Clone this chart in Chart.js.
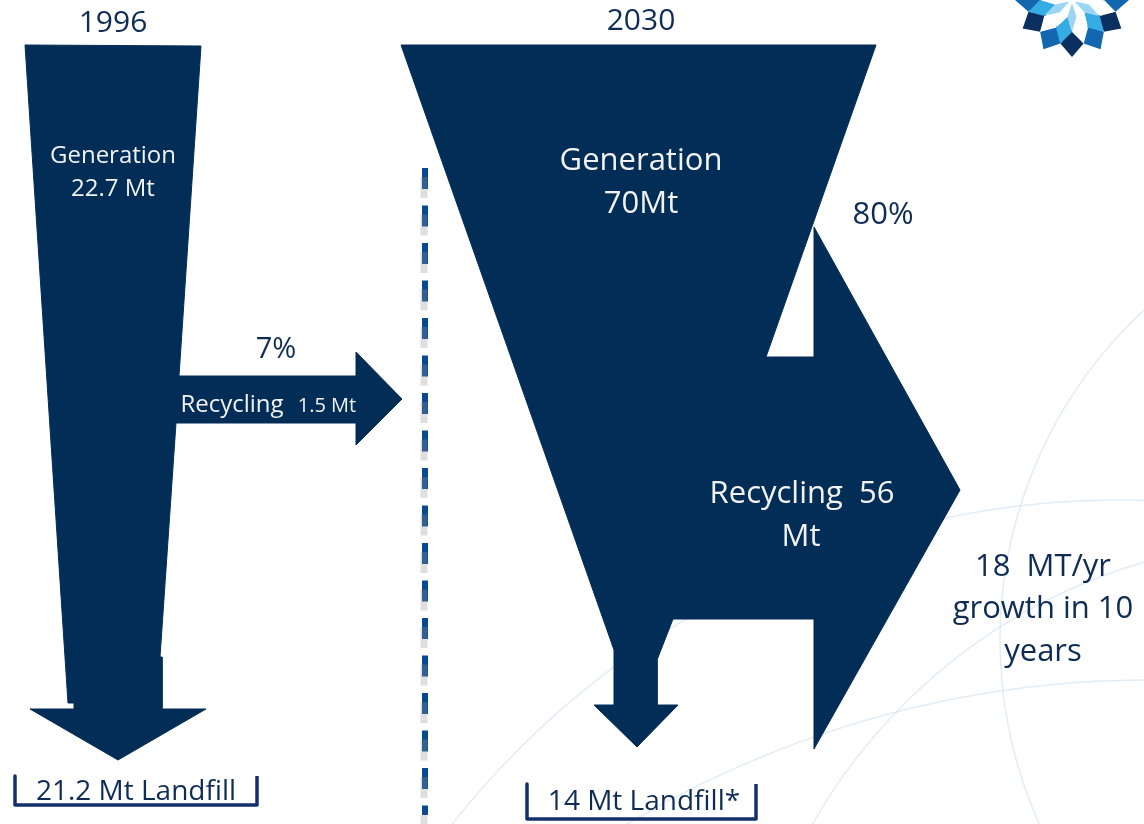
<!DOCTYPE html>
<html>
<head>
<meta charset="utf-8">
<script src="https://cdn.jsdelivr.net/npm/chart.js@4.4.1/dist/chart.umd.min.js"></script>
<style>
  html, body { margin: 0; padding: 0; background: #fff; }
  #wrap { width: 1144px; height: 824px; position: relative; }
</style>
</head>
<body>
<div id="wrap"><canvas id="flowChart"></canvas></div>
<script>
// Waste flows (Mt)
const years = ["1996", "2030"];
const generationMt = [22.7, 70];
const recyclingMt = [1.5, 56];
const landfillMt = [21.2, 14];
const recyclingRate = [7, 80];
const growthNote = ["18  MT/yr", "growth in 10", "years"];

// Layout of the flow arrows, in slide units (x right, y down)
const flow1996Outline = [
  [25, 45], [201, 46], [179, 376], [356, 376], [356, 352], [402, 399],
  [356, 445], [356, 423], [176, 423], [160, 657], [162, 657], [162, 709],
  [206, 709], [118, 760], [30, 709], [74, 709], [74, 703], [68, 703], [25, 45],
];
const flow2030Outline = [
  [401, 45], [876, 45], [766, 357], [814, 357], [814, 227], [960, 490],
  [814, 749], [814, 619], [673, 619], [657, 660], [657, 705], [678, 705],
  [637, 747], [594, 705], [614, 705], [614, 650], [401, 45],
];
const dividerLine = [[425, 168], [425, 815]];
const bracket1996 = [[15, 776], [15, 805], [257, 805], [257, 776]];
const bracket2030 = [[527, 784], [527, 819], [756, 819], [756, 784]];

const NAVY = "#022d56";
const TEXT = "#0e2c55";
const pts = (arr, dx = 0, dy = 0) => arr.map(([x, y]) => ({ x: x + dx, y: y + dy }));

// text labels: [text, x, baseline y, size, color]
const labels = [
  [years[0], 113, 32, 30, TEXT],
  [years[1], 641, 30, 30, TEXT],
  ["Generation", 113, 163, 24, "#f2f2f2"],
  [`${generationMt[0]} Mt`, 113, 196, 24, "#f2f2f2"],
  [`${recyclingRate[0]}%`, 276, 358, 29, TEXT],
  ["Generation", 641, 170, 31, "#f2f2f2"],
  [`${generationMt[1]}Mt`, 641, 213, 31, "#f2f2f2"],
  [`${recyclingRate[1]}%`, 883, 224, 31, TEXT],
  [`Recycling  ${recyclingMt[1]}`, 802, 503, 31, "#f2f2f2"],
  ["Mt", 801, 546, 31, "#f2f2f2"],
  [growthNote[0], 1043, 576, 31, TEXT],
  [growthNote[1], 1043, 618, 31, TEXT],
  [growthNote[2], 1043, 661, 31, TEXT],
  [`${landfillMt[0]} Mt Landfill`, 136, 800, 28, TEXT],
  [`${landfillMt[1]} Mt Landfill*`, 644, 810, 28, TEXT],
];

// faint background arcs, logo, and the text
const decor = {
  id: "decor",
  beforeDatasetsDraw(chart) {
    const { ctx, scales: { x, y } } = chart;
    ctx.save();
    ctx.strokeStyle = "rgba(190,215,235,0.45)";
    ctx.lineWidth = 1.5;
    const arcs = [[1450, 640, 450], [1120, 1350, 850], [1150, 1700, 1020], [1300, 1100, 560]];
    arcs.forEach(([cx, cy, r]) => {
      ctx.beginPath();
      ctx.arc(x.getPixelForValue(cx), y.getPixelForValue(cy), r, 0, Math.PI * 2);
      ctx.stroke();
    });
    // logo rosette, cut by the top edge
    const lx = x.getPixelForValue(1072), ly = y.getPixelForValue(0);
    const rings = [
      // inner radius, outer radius, colours, angle offset
      [30, 57, ["#0b2f5f", "#1366b0"], 0],
      [17, 45, ["#36ace4", "#ffffff"], Math.PI / 12],
      [3, 31, ["#9ad6f3", "#ffffff"], 0],
    ];
    rings.forEach(([r0, r1, cols, off]) => {
      const half = ((r0 + r1) / 2) * Math.tan(Math.PI / 12);
      for (let i = 0; i < 12; i++) {
        const a = off + (i * Math.PI) / 6;
        ctx.save();
        ctx.translate(lx, ly);
        ctx.rotate(a);
        ctx.beginPath();
        ctx.moveTo(0, r0);
        ctx.lineTo(half, (r0 + r1) / 2);
        ctx.lineTo(0, r1);
        ctx.lineTo(-half, (r0 + r1) / 2);
        ctx.closePath();
        ctx.fillStyle = cols[i % 2];
        ctx.fill();
        ctx.restore();
      }
    });
    ctx.restore();
  },
  afterDatasetsDraw(chart) {
    const { ctx, scales: { x, y } } = chart;
    ctx.save();
    ctx.textAlign = "center";
    ctx.textBaseline = "alphabetic";
    labels.forEach(([t, tx, ty, size, color]) => {
      ctx.font = `${size}px "Open Sans"`;
      ctx.fillStyle = color;
      ctx.fillText(t, x.getPixelForValue(tx), y.getPixelForValue(ty));
    });
    // smaller "1.5 Mt" beside the 1996 recycling label
    ctx.font = '24px "Open Sans"';
    ctx.fillStyle = "#f2f2f2";
    ctx.fillText("Recycling", x.getPixelForValue(232), y.getPixelForValue(412));
    ctx.font = '20px "Open Sans"';
    ctx.fillText(`${recyclingMt[0]} Mt`, x.getPixelForValue(327), y.getPixelForValue(412));
    ctx.restore();
  },
};

new Chart(document.getElementById("flowChart"), {
  type: "scatter",
  data: {
    datasets: [
      {
        label: "divider shadow",
        data: pts(dividerLine, -1, 9),
        showLine: true,
        borderColor: "rgba(150,150,150,0.3)",
        borderWidth: 7,
        borderDash: [21, 16.5],
        pointRadius: 0,
      },
      {
        label: "divider",
        data: pts(dividerLine),
        showLine: true,
        borderColor: "#084a8f",
        borderWidth: 6,
        borderDash: [21, 16.5],
        borderCapStyle: "butt",
        pointRadius: 0,
      },
      {
        label: years[0],
        data: pts(flow1996Outline),
        showLine: true,
        fill: "shape",
        backgroundColor: NAVY,
        borderColor: NAVY,
        borderWidth: 1,
        pointRadius: 0,
      },
      {
        label: years[1],
        data: pts(flow2030Outline),
        showLine: true,
        fill: "shape",
        backgroundColor: NAVY,
        borderColor: NAVY,
        borderWidth: 1,
        pointRadius: 0,
      },
      {
        label: "landfill 1996",
        data: pts(bracket1996),
        showLine: true,
        borderColor: "#13306c",
        borderWidth: 3.5,
        borderJoinStyle: "round",
        pointRadius: 0,
      },
      {
        label: "landfill 2030",
        data: pts(bracket2030),
        showLine: true,
        borderColor: "#13306c",
        borderWidth: 3.5,
        borderJoinStyle: "round",
        pointRadius: 0,
      },
    ],
  },
  options: {
    responsive: true,
    maintainAspectRatio: false,
    animation: false,
    layout: { padding: 0 },
    plugins: { legend: { display: false }, tooltip: { enabled: false } },
    scales: {
      x: { type: "linear", min: 0, max: 1144, display: false },
      y: { type: "linear", min: 0, max: 824, reverse: true, display: false },
    },
  },
  plugins: [decor],
});
</script>
</body>
</html>
